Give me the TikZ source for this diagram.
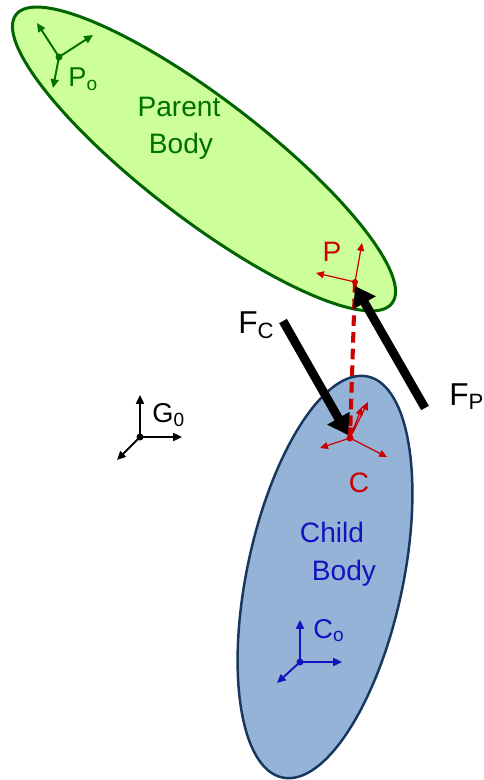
\documentclass[tikz,border=0pt]{standalone}
\usepackage{fontspec}
\setmainfont{Liberation Sans}
\usepackage{xcolor}
\usepackage{tikz}
\usetikzlibrary{arrows.meta,positioning}

\definecolor{parentfill}{RGB}{204,255,153}
\definecolor{parentline}{RGB}{0,100,0}
\definecolor{parenttext}{RGB}{0,112,0}
\definecolor{childfill}{RGB}{149,179,215}
\definecolor{childline}{RGB}{23,55,94}
\definecolor{childtext}{RGB}{20,20,190}
\definecolor{jointred}{RGB}{204,0,0}

\begin{document}
\begin{tikzpicture}[x=0.02cm, y=-0.02cm,
    bodytext/.style={font=\fontsize{16}{19}\selectfont, inner sep=0pt, anchor=base},
    framelabel/.style={font=\fontsize{15.5}{18}\selectfont, inner sep=0pt, anchor=base west},
    forcelabel/.style={font=\fontsize{18}{21}\selectfont, inner sep=0pt, anchor=base west},
    axis/.style={line width=1.1pt, -{Triangle[length=5pt,width=4.5pt]}},
    thinaxis/.style={line width=0.7pt, -{Triangle[length=4.5pt,width=4pt]}},
    force/.style={line width=5pt, -{Triangle[length=11pt,width=14pt]}}]
  \useasboundingbox (0,0) rectangle (483,780);

  % Bodies
  \draw[line width=1.7pt, draw=parentline, fill=parentfill]
    (204,159) ellipse [x radius=237, y radius=60, rotate=-37.5];
  \draw[line width=1.4pt, draw=childline, fill=childfill]
    (325,577) ellipse [x radius=78, y radius=205, rotate=-12];

  \node[bodytext, parenttext] (parent) at (179,117) {Parent};
  \node[bodytext, parenttext] (parentbody) at (181,154) {Body};
  \node[bodytext, childtext] (child) at (332,542) {Child};
  \node[bodytext, childtext] (childbody) at (344,580) {Body};

  % Frame origins
  \coordinate (Po) at (59,57);
  \coordinate (P) at (355,282);
  \coordinate (C) at (350,438);
  \coordinate (G0) at (140,437);
  \coordinate (Co) at (300,662);

  % Parent origin frame
  \foreach \ax/\dx/\dy in {x/34/-22, y/-22/-34, z/-6/31} {
    \path (Po) ++(\dx,\dy) coordinate (Po-\ax);
    \draw[axis, parenttext] (Po) -- (Po-\ax);
  }
  \fill[parenttext] (Po) circle (3.5);
  \node[framelabel, parenttext] (Polab) at (68,87) {P\textsubscript{o}};

  % Ground frame
  \foreach \ax/\dx/\dy in {x/42/0, y/0/-42, z/-23/23} {
    \path (G0) ++(\dx,\dy) coordinate (G0-\ax);
    \draw[axis, black] (G0) -- (G0-\ax);
  }
  \fill[black] (G0) circle (3.5);
  \node[framelabel] (G0lab) at (152,422) {G\textsubscript{0}};

  % Child origin frame
  \foreach \ax/\dx/\dy in {x/42/0, y/0/-42, z/-23/21} {
    \path (Co) ++(\dx,\dy) coordinate (Co-\ax);
    \draw[axis, childtext] (Co) -- (Co-\ax);
  }
  \fill[childtext] (Co) circle (3.5);
  \node[framelabel, childtext] (Colab) at (313,638) {C\textsubscript{o}};

  % Joint frames
  \foreach \ax/\dx/\dy in {x/7/-39, y/-39/-9} {
    \path (P) ++(\dx,\dy) coordinate (P-\ax);
    \draw[thinaxis, jointred] (P) -- (P-\ax);
  }
  \foreach \ax/\dx/\dy in {x/37/19, y/-30/10, z/18/-36, w/12/-31} {
    \path (C) ++(\dx,\dy) coordinate (C-\ax);
    \draw[thinaxis, jointred] (C) -- (C-\ax);
  }
  \fill[jointred] (P) circle (3);
  \fill[jointred] (C) circle (3.5);
  \node[bodytext, jointred] (Plab) at (332,262) {P};
  \node[bodytext, jointred] (Clab) at (359,492) {C};

  % Joint connection
  \draw[jointred, line width=2.3pt, dash pattern=on 6pt off 3.5pt,
        -{Triangle[length=6pt,width=6pt]}] (P) -- (C);

  % Constraint forces
  \coordinate (FCstart) at (283,321);
  \coordinate (FPstart) at (425,408);
  \draw[force] (FCstart) -- (348,435);
  \draw[force] (FPstart) -- (355,286);
  \node[forcelabel] (FClab) at (238,333) {F\textsubscript{C}};
  \node[forcelabel] (FPlab) at (449,405) {F\textsubscript{P}};
\end{tikzpicture}
\end{document}
